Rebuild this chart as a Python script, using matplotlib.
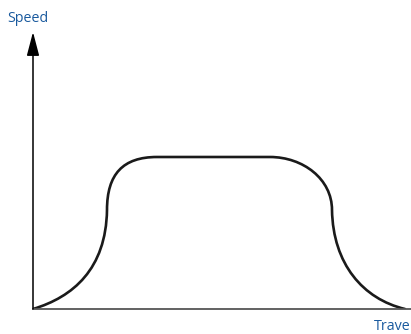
import matplotlib

matplotlib.use("Agg")
import matplotlib.pyplot as plt
from matplotlib.patches import PathPatch
from matplotlib.path import Path

# Speed profile: knots and Bezier handles (travel, speed)
travel = [0, 40, 73, 74,   # accelerate
          74, 90, 124,      # round into the plateau
          237,              # constant speed
          270, 299, 299,    # round out of the plateau
          300, 330, 372]    # decelerate
speed = [0, 12, 40, 99,
         135, 152, 152,
         152,
         152, 130, 99,
         45, 10, 0]
codes = [Path.MOVETO] + [Path.CURVE4] * 6 + [Path.LINETO] + [Path.CURVE4] * 6

x_label = "Trave"
y_label = "Speed"
label_color = "#1a5a9e"

fig = plt.figure(figsize=(4.11, 3.34), dpi=100)
ax = fig.add_axes([33 / 411, 25 / 334, 378 / 411, 277 / 334])
ax.set_xlim(0, 378)
ax.set_ylim(0, 277)

profile = Path(list(zip(travel, speed)), codes)
ax.add_patch(PathPatch(profile, fill=False, edgecolor="#1a1a1a", lw=1.9,
                       capstyle="round", joinstyle="round"))

# axes: plain bottom line, left line with arrow head
for s in ["top", "right", "left"]:
    ax.spines[s].set_visible(False)
ax.spines["bottom"].set_color("#555555")
ax.spines["bottom"].set_linewidth(1.3)
ax.set_xticks([])
ax.set_yticks([])
ax.annotate("", xy=(0, 277), xytext=(0, 0),
            arrowprops=dict(arrowstyle="-|>,head_length=1.45,head_width=0.38",
                            color="black", lw=1.1, shrinkA=0, shrinkB=0),
            annotation_clip=False)

fig.text(7 / 411, 1 - 18 / 334, y_label, color=label_color, fontsize=10.3,
         family="Open Sans", va="center", ha="left")
fig.text(374 / 411, 1 - 326 / 334, x_label, color=label_color, fontsize=10.3,
         family="Open Sans", va="center", ha="left")

fig.savefig("out.png", dpi=100)
